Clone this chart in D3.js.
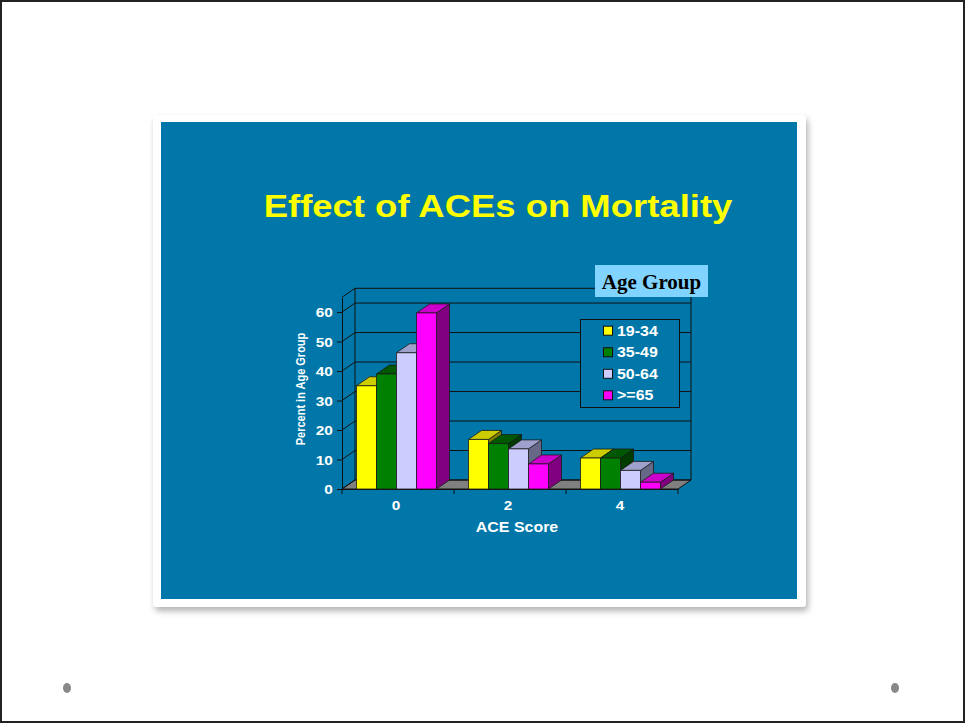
<!DOCTYPE html>
<html>
<head>
<meta charset="utf-8">
<script src="https://cdn.jsdelivr.net/npm/d3@7"></script>
<style>
  html, body { margin: 0; padding: 0; background: #fff; }
  svg { display: block; }
</style>
</head>
<body>
<svg id="chart" width="965" height="723"></svg>
<script>
// ACE score categories and the share of each age group who died
const categories = ["0", "2", "4"];
const seriesNames = ["19-34", "35-49", "50-64", ">=65"];
const values19_34 = [35.0, 16.8, 10.5];
const values35_49 = [39.0, 15.4, 10.5];
const values50_64 = [46.2, 13.6, 6.3];
const values65plus = [59.7, 8.5, 2.3];
const yTicks = [0, 10, 20, 30, 40, 50, 60];

const seriesValues = [values19_34, values35_49, values50_64, values65plus];
const faceColors = [
  { front: "#ffff00", top: "#cccc00", side: "#808000" },
  { front: "#008000", top: "#005800", side: "#003c00" },
  { front: "#ccccff", top: "#a0a0cc", side: "#676788" },
  { front: "#ff00ff", top: "#cc00cc", side: "#800080" }
];

const FONT = "'Liberation Sans', Arial, Helvetica, sans-serif";
const SX = 1.14;            // horizontal text stretch used on the slide
const DX = 13, DY = -9;     // 3-D depth offset

const svg = d3.select("#chart");

// page frame
svg.append("rect").attr("x", 1).attr("y", 1).attr("width", 963).attr("height", 721)
  .attr("fill", "#fff").attr("stroke", "#222").attr("stroke-width", 2);
svg.append("ellipse").attr("cx", 67).attr("cy", 688).attr("rx", 4).attr("ry", 5).attr("fill", "#888");
svg.append("ellipse").attr("cx", 895).attr("cy", 688).attr("rx", 4).attr("ry", 5).attr("fill", "#888");

// slide card with soft shadow
const defs = svg.append("defs");
const f = defs.append("filter").attr("id", "shadow").attr("x", "-5%").attr("y", "-5%")
  .attr("width", "115%").attr("height", "115%");
f.append("feDropShadow").attr("dx", 2).attr("dy", 4).attr("stdDeviation", 3)
  .attr("flood-color", "#000").attr("flood-opacity", 0.3);
svg.append("rect").attr("x", 153).attr("y", 115).attr("width", 653).attr("height", 492)
  .attr("rx", 4).attr("fill", "#fff").attr("filter", "url(#shadow)");
svg.append("rect").attr("x", 161).attr("y", 122).attr("width", 636).attr("height", 477)
  .attr("fill", "#0077a8");

// title
svg.append("text")
  .attr("transform", `translate(498,217) scale(${SX},1)`)
  .attr("text-anchor", "middle")
  .attr("font-family", FONT).attr("font-weight", "bold").attr("font-size", 32)
  .attr("fill", "#ffff00")
  .text("Effect of ACEs on Mortality");

// scales
const y = d3.scaleLinear().domain([0, 65]).range([489, 297.3]);
const x0 = d3.scaleBand().domain(categories).range([342, 678]);
const x1 = d3.scaleBand().domain(seriesNames).range([-1.5, x0.bandwidth() - 1.5]).paddingOuter(0.8);

const [xL, xR] = x0.range();
const yBase = y(0), yTop = y(65);
const lineCol = "#111";

// floor
svg.append("polygon")
  .attr("points", [[xL, yBase], [xR, yBase], [xR + DX, yBase + DY], [xL + DX, yBase + DY]].join(" "))
  .attr("fill", "#808080").attr("stroke", lineCol).attr("stroke-width", 1);

// walls and gridlines
const walls = svg.append("g").attr("stroke", lineCol).attr("stroke-width", 1).attr("fill", "none");
walls.selectAll("line.grid").data(yTicks.concat([65])).join("line")
  .attr("class", "grid")
  .attr("x1", xL + DX).attr("x2", xR + DX)
  .attr("y1", d => y(d) + DY).attr("y2", d => y(d) + DY);
walls.selectAll("line.side").data(yTicks.concat([65])).join("line")
  .attr("class", "side")
  .attr("x1", xL).attr("x2", xL + DX)
  .attr("y1", d => y(d)).attr("y2", d => y(d) + DY);
walls.append("line").attr("x1", xL + DX).attr("x2", xL + DX).attr("y1", yBase + DY).attr("y2", yTop + DY);
walls.append("line").attr("x1", xR + DX).attr("x2", xR + DX).attr("y1", yBase + DY).attr("y2", yTop + DY);

// y axis
const yAxis = svg.append("g").attr("transform", `translate(${xL},0)`)
  .call(d3.axisLeft(y).tickValues(yTicks).tickSize(5).tickSizeOuter(0).tickPadding(3));
yAxis.select(".domain").attr("stroke", lineCol);
yAxis.selectAll(".tick line").attr("stroke", lineCol);
yAxis.selectAll(".tick text")
  .attr("transform", `scale(${SX},1)`)
  .attr("font-family", FONT).attr("font-weight", "bold").attr("font-size", 13.5)
  .attr("fill", "#fff").attr("dy", "0.36em");

// x axis: labels at category centres, ticks at category boundaries
const xAxis = svg.append("g").attr("transform", `translate(0,${yBase})`)
  .call(d3.axisBottom(x0).tickSize(0).tickSizeOuter(0));
xAxis.select(".domain").attr("stroke", lineCol);
xAxis.selectAll(".tick text")
  .attr("x", -1.8).attr("y", 21).attr("dy", 0)
  .attr("transform", `scale(${SX},1)`)
  .attr("font-family", FONT).attr("font-weight", "bold").attr("font-size", 13.5)
  .attr("fill", "#fff");
xAxis.selectAll("line.bound").data(categories.map(c => x0(c)).concat([xR])).join("line")
  .attr("class", "bound")
  .attr("x1", d => d).attr("x2", d => d).attr("y1", 0).attr("y2", 5)
  .attr("stroke", lineCol);

// bars (side, top, front for each, drawn left to right)
const bars = svg.append("g").attr("stroke", "#1a1a1a").attr("stroke-width", 0.8)
  .attr("stroke-linejoin", "round");
categories.forEach((cat, ci) => {
  seriesNames.forEach((s, si) => {
    const v = seriesValues[si][ci];
    const xl = x0(cat) + x1(s);
    const w = x1.bandwidth();
    const top = y(v);
    const col = faceColors[si];
    bars.append("polygon")
      .attr("points", [[xl + w, top], [xl + w + DX, top + DY], [xl + w + DX, yBase + DY], [xl + w, yBase]].join(" "))
      .attr("fill", col.side);
    bars.append("polygon")
      .attr("points", [[xl, top], [xl + w, top], [xl + w + DX, top + DY], [xl + DX, top + DY]].join(" "))
      .attr("fill", col.top);
    bars.append("rect")
      .attr("x", xl).attr("y", top).attr("width", w).attr("height", yBase - top)
      .attr("fill", col.front);
  });
});

// axis titles
svg.append("text")
  .attr("transform", `translate(305,389) scale(${SX},1) rotate(-90)`)
  .attr("text-anchor", "middle")
  .attr("font-family", FONT).attr("font-weight", "bold").attr("font-size", 11)
  .attr("fill", "#fff")
  .text("Percent in Age Group");
svg.append("text")
  .attr("transform", `translate(517,532) scale(${SX},1)`)
  .attr("text-anchor", "middle")
  .attr("font-family", FONT).attr("font-weight", "bold").attr("font-size", 14)
  .attr("fill", "#fff")
  .text("ACE Score");

// legend
const legend = svg.append("g");
legend.append("rect").attr("x", 580.5).attr("y", 319.5).attr("width", 99).attr("height", 88)
  .attr("fill", "#0077a8").attr("stroke", lineCol).attr("stroke-width", 1);
const rowY = d3.scalePoint().domain(seriesNames).range([330.7, 395.3]);
seriesNames.forEach((s, i) => {
  legend.append("rect").attr("x", 603.5).attr("y", rowY(s) - 4.5).attr("width", 9).attr("height", 9)
    .attr("fill", faceColors[i].front).attr("stroke", "#111").attr("stroke-width", 1);
  legend.append("text")
    .attr("transform", `translate(617,${rowY(s) + 5}) scale(${SX},1)`)
    .attr("font-family", FONT).attr("font-weight", "bold").attr("font-size", 14)
    .attr("fill", "#fff")
    .text(s);
});

// legend heading
svg.append("rect").attr("x", 595).attr("y", 265).attr("width", 113).attr("height", 32)
  .attr("fill", "#80d4ff");
svg.append("text")
  .attr("x", 651.5).attr("y", 289).attr("text-anchor", "middle")
  .attr("font-family", "'Liberation Serif', 'Times New Roman', serif")
  .attr("font-weight", "bold").attr("font-size", 21)
  .attr("fill", "#000")
  .text("Age Group");
</script>
</body>
</html>
